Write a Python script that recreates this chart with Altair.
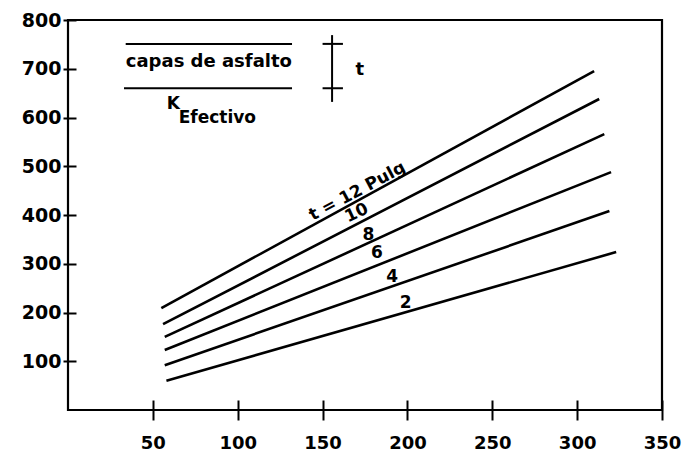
import altair as alt
import pandas as pd

# ---- data ----
t_values = [12, 10, 8, 6, 4, 2]
x_start = [55, 56, 57, 57, 57, 58]
y_start = [209, 176, 150, 123, 92, 60]
x_end = [310, 313, 316, 320, 319, 323]
y_end = [695, 638, 566, 488, 408, 324]

label_text = ["t = 12  Pulg", "10", "8", "6", "4", "2"]
label_x = [173, 170, 177, 182, 191, 199]
label_y = [432, 404, 359, 322, 273, 219]

x_ticks = [50, 100, 150, 200, 250, 300, 350]
y_ticks = [100, 200, 300, 400, 500, 600, 700, 800]

# inset (thickness diagram) in data units
inset_rule_x = [34, 33]
inset_rule_x2 = [132, 132]
inset_rule_y = [751, 660]
dim_x = [155.6]
dim_y = [769]
dim_y2 = [632]
bar_x = [150, 150]
bar_x2 = [162, 162]
bar_y = [751, 660]
inset_text = ["capas de asfalto", "K", "Efectivo", "t"]
inset_text_x = [83, 62, 88, 172]
inset_text_y = [714, 627, 600, 697]
inset_text_size = [18, 17, 17, 18]

# ---- tables ----
rows = []
for t, xs, ys, xe, ye in zip(t_values, x_start, y_start, x_end, y_end):
    rows.append({"t": t, "x": xs, "y": ys})
    rows.append({"t": t, "x": xe, "y": ye})
lines_df = pd.DataFrame(rows)

labels_df = pd.DataFrame({"label": label_text, "x": label_x, "y": label_y})

FONT = "DejaVu Sans"

xscale = alt.Scale(domain=[0, 350], nice=False, zero=False)
yscale = alt.Scale(domain=[0, 800], nice=False, zero=False)

X = alt.X("x:Q", scale=xscale, title=None,
          axis=alt.Axis(values=x_ticks, grid=False, domain=False, offset=-10,
                        tickSize=20, tickWidth=2, tickColor="black",
                        labelFont=FONT, labelFontSize=18, labelFontWeight="bold",
                        labelColor="black", labelPadding=14, labelFlush=False))
Y = alt.Y("y:Q", scale=yscale, title=None,
          axis=alt.Axis(values=y_ticks, grid=False, domain=False, offset=-8,
                        tickSize=13, tickWidth=2, tickColor="black",
                        labelFont=FONT, labelFontSize=19, labelFontWeight="bold",
                        labelColor="black", labelPadding=2, labelFlush=False))

lines = alt.Chart(lines_df).mark_line(color="black", strokeWidth=2.6).encode(
    x=X, y=Y, detail="t:N")

lab_rot12 = alt.Chart(labels_df.iloc[[0]]).mark_text(
    font=FONT, fontSize=17, fontWeight="bold", color="black",
    align="center", baseline="bottom", angle=332).encode(
    x=X, y=Y, text="label:N")

lab_10 = alt.Chart(labels_df.iloc[[1]]).mark_text(
    font=FONT, fontSize=17, fontWeight="bold", color="black",
    align="center", baseline="middle", angle=335).encode(
    x=X, y=Y, text="label:N")

lab_rest = alt.Chart(labels_df.iloc[2:]).mark_text(
    font=FONT, fontSize=17, fontWeight="bold", color="black",
    align="center", baseline="middle").encode(
    x=X, y=Y, text="label:N")

inset_rules = alt.Chart(pd.DataFrame({"x": inset_rule_x, "x2": inset_rule_x2,
                                      "y": inset_rule_y})).mark_rule(
    color="black", strokeWidth=2).encode(x=X, x2="x2:Q", y=Y)

dim_line = alt.Chart(pd.DataFrame({"x": dim_x, "y": dim_y, "y2": dim_y2})).mark_rule(
    color="black", strokeWidth=2).encode(x=X, y=Y, y2="y2:Q")

dim_bars = alt.Chart(pd.DataFrame({"x": bar_x, "x2": bar_x2, "y": bar_y})).mark_rule(
    color="black", strokeWidth=2).encode(x=X, x2="x2:Q", y=Y)

inset_df = pd.DataFrame({"label": inset_text, "x": inset_text_x,
                         "y": inset_text_y, "size": inset_text_size})
inset_txt = alt.Chart(inset_df).mark_text(
    font=FONT, fontWeight="bold", color="black", align="center",
    baseline="middle").encode(
    x=X, y=Y, text="label:N",
    size=alt.Size("size:Q", scale=None, legend=None))

chart = alt.layer(lines, lab_rot12, lab_10, lab_rest, inset_rules, dim_line,
                  dim_bars, inset_txt).properties(
    width=594, height=390,
    autosize=alt.AutoSizeParams(type="none"),
    padding={"left": 60, "top": 12, "right": 20, "bottom": 44},
    background="white",
).configure_view(stroke="black", strokeWidth=2.2)

chart.save("out.html", embed_options={"renderer": "svg", "actions": False})
